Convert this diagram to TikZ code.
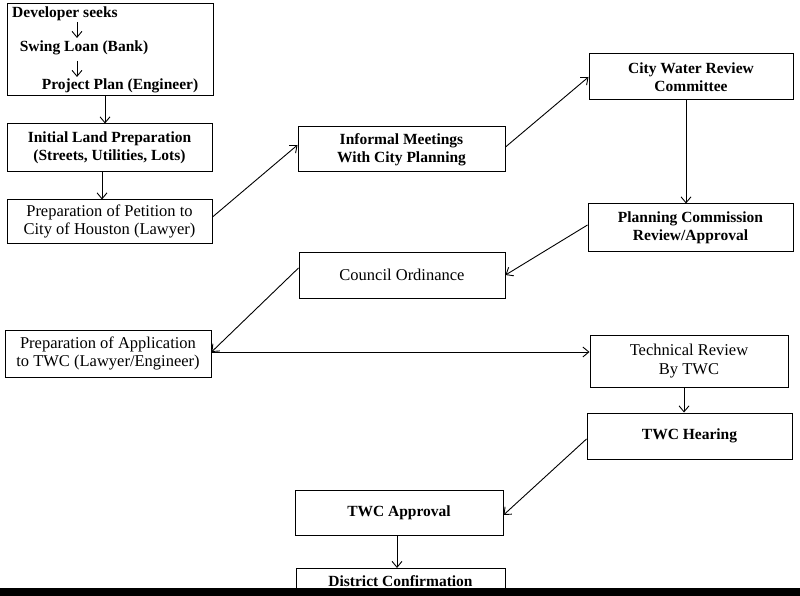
\documentclass[tikz,border=0pt]{standalone}
\usepackage{fontspec}
\setmainfont{Liberation Serif}
\usetikzlibrary{arrows.meta}
\begin{document}
\begin{tikzpicture}[x=1pt,y=-1pt,
  box/.style={draw,line width=1pt,inner sep=0pt,align=center,font=\fontsize{16.5}{18.5}\selectfont},
  bbox/.style={box,font=\fontsize{15.5}{18}\selectfont\bfseries},
  txt/.style={inner sep=0pt,font=\fontsize{15.5}{18}\selectfont\bfseries},
  arr/.style={-{Straight Barb[length=6pt,width=10pt]},line width=0.9pt}]
\useasboundingbox (0,0) rectangle (800,596);
% top box
\node[box,minimum width=206pt,minimum height=92pt] (top) at (110,50) {};
\node[txt,anchor=west] (dev) at (12,14) {Developer seeks};
\node[txt] (swing) at (84,48) {Swing Loan (Bank)};
\node[txt] (proj) at (120,86) {Project Plan (Engineer)};
\coordinate (a1s) at (77,22);
\coordinate (a1e) at (77,38);
\coordinate (a2s) at (77,61);
\coordinate (a2e) at (77,77);
\draw[arr] (a1s) -- (a1e);
\draw[arr] (a2s) -- (a2e);
% boxes
\node[bbox,minimum width=205pt,minimum height=48pt] (land) at (109.5,148) {Initial Land Preparation\\(Streets, Utilities, Lots)};
\node[box,minimum width=205pt,minimum height=43pt] (pet) at (109.5,221.5) {Preparation of Petition to\\City of Houston (Lawyer)};
\node[bbox,minimum width=207pt,minimum height=45pt] (inf) at (401.5,149.5) {Informal Meetings\\With City Planning};
\node[bbox,minimum width=204pt,minimum height=46pt] (cwr) at (691,77) {City Water Review\\Committee};
\node[bbox,minimum width=205pt,minimum height=47pt] (pc) at (690.5,227.5) {Planning Commission\\Review/Approval};
\node[box,minimum width=206pt,minimum height=46pt] (co) at (402,275) {Council Ordinance};
\node[box,minimum width=206pt,minimum height=47pt] (app) at (108,353.5) {Preparation of Application\\to TWC (Lawyer/Engineer)};
\node[box,minimum width=198pt,minimum height=52pt] (tr) at (689,361) {Technical Review\\By TWC};
\node[bbox,minimum width=205pt,minimum height=46pt] (hear) at (689.5,436) {TWC Hearing};
\node[bbox,minimum width=208pt,minimum height=45pt] (appr) at (399,512.5) {TWC Approval};
\node[bbox,minimum width=209pt,minimum height=40pt,anchor=north] (dist) at (400.5,568) {};
\node[txt] (distt) at (400.5,581) {District Confirmation};
% connectors
\draw[arr] (top.south -| 105,0) -- (land.north -| 105,0);
\draw[arr] (land.south -| 102,0) -- (pet.north -| 102,0);
\draw[arr] (pet.east |- 0,217) -- (inf.west |- 0,145);
\draw[arr] (inf.east |- 0,147) -- (cwr.west |- 0,77);
\draw[arr] (cwr.south -| 686,0) -- (pc.north -| 686,0);
\draw[arr] (pc.west |- 0,225) -- (co.east |- 0,275);
\draw[arr] (co.west |- 0,268) -- (app.east |- 0,352);
\draw[arr] (app.east |- 0,352) -- (tr.west |- 0,352);
\draw[arr] (tr.south -| 684,0) -- (hear.north -| 684,0);
\draw[arr] (hear.west |- 0,439) -- (appr.east |- 0,515);
\draw[arr] (appr.south -| 397,0) -- (dist.north -| 397,0);
% bottom black band
\fill (0,588) rectangle (800,596);
\end{tikzpicture}
\end{document}
